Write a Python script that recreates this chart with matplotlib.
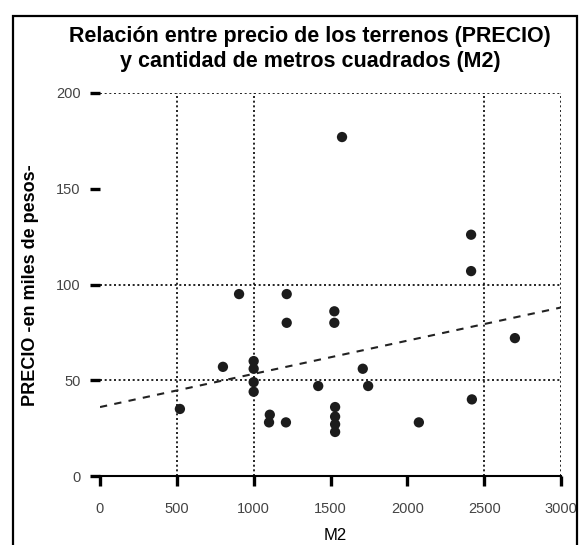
import matplotlib
matplotlib.use("Agg")
import matplotlib.pyplot as plt
from matplotlib.patches import Rectangle

# Data
m2 = [520, 800, 905, 1000, 1000, 1000, 1000, 1105, 1100, 1210, 1215, 1215,
      1420, 1525, 1525, 1530, 1530, 1530, 1530, 1575, 1710, 1745, 2075,
      2415, 2415, 2420, 2700]
precio = [35, 57, 95, 60, 56, 49, 44, 32, 28, 28, 95, 80,
          47, 86, 80, 36, 31, 27, 23, 177, 56, 47, 28,
          126, 107, 40, 72]

fit_x = [0, 3000]
fit_y = [36, 88]

x_ticks = [0, 500, 1000, 1500, 2000, 2500, 3000]
x_ticklabels = ["0", "500", "1000", "1500", "2000", "2500", "3000"]
y_ticks = [0, 50, 100, 150, 200]
y_ticklabels = ["0", "50", "100", "150", "200"]
x_grid = [500, 1000, 2500, 3000]
y_grid = [50, 100, 200]

title = "Relación entre precio de los terrenos (PRECIO)\ny cantidad de metros cuadrados (M2)"
xlabel = "M2"
ylabel = "PRECIO -en miles de pesos-"

plt.rcParams['font.family'] = ['Liberation Sans', 'DejaVu Sans']

W, H = 587, 545
fig = plt.figure(figsize=(W / 100, H / 100), dpi=100)
ax = fig.add_axes([100 / W, 1 - 476 / H, (561 - 100) / W, (476 - 93) / H])

ax.set_xlim(0, 3000)
ax.set_ylim(0, 200)

dot = (0, (1.2, 1.6))
for gx in x_grid:
    ax.axvline(gx, color="black", lw=1.2, linestyle=dot, zorder=1)
for gy in y_grid:
    ax.axhline(gy, color="black", lw=1.2, linestyle=dot, zorder=1)

ax.plot(fit_x, fit_y, color="#222222", lw=1.5, linestyle=(0, (3.5, 3.5)), zorder=2)
ax.scatter(m2, precio, s=55, color="#1c1c1c", edgecolors="none", zorder=3)

for s in ["top", "right", "left"]:
    ax.spines[s].set_visible(False)
ax.spines["bottom"].set_linewidth(1.5)

ax.set_xticks(x_ticks)
ax.set_xticklabels(x_ticklabels)
ax.set_yticks(y_ticks)
ax.set_yticklabels(y_ticklabels)
ax.tick_params(axis="x", direction="out", length=7, width=2.4, pad=12,
               labelsize=10.5, labelcolor="#444444")
ax.tick_params(axis="y", direction="out", length=7, width=2.4, pad=7,
               labelsize=10.5, labelcolor="#444444")

fig.text(310 / W, 1 - 49 / H, title, ha="center", va="center",
         fontsize=15.5, fontweight="bold", linespacing=1.25)
fig.text(31 / W, 1 - 285 / H, ylabel, ha="center", va="center", rotation=90,
         fontsize=13, fontweight="bold")
fig.text(335 / W, 1 - 536 / H, xlabel, ha="center", va="center", fontsize=12)

fig.patches.append(Rectangle((13 / W, -0.05), (577 - 13) / W, 1 - 16 / H + 0.05,
                             transform=fig.transFigure, fill=False,
                             edgecolor="black", lw=1.6))

fig.savefig("out.png", dpi=100)
